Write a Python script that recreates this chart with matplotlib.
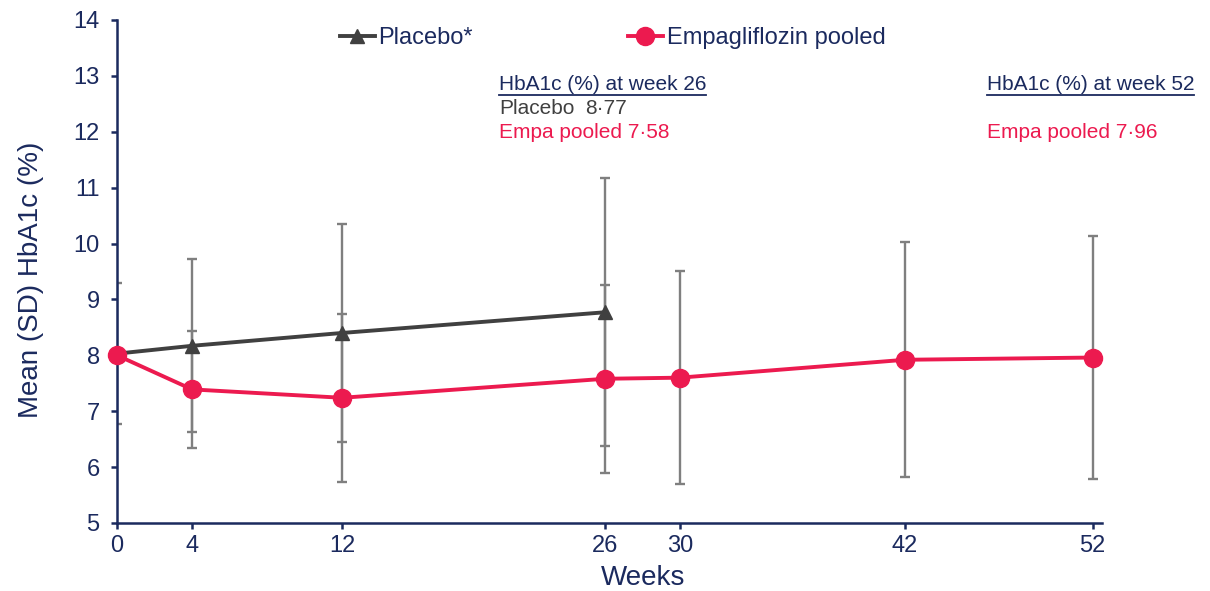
import matplotlib.pyplot as plt
from matplotlib.lines import Line2D

plt.rcParams['font.family'] = ['Liberation Sans', 'DejaVu Sans']

# Data
placebo_weeks = [0, 4, 12, 26]
placebo_mean = [8.03, 8.17, 8.40, 8.77]
placebo_sd = [1.26, 1.55, 1.95, 2.40]

empa_weeks = [0, 4, 12, 26, 30, 42, 52]
empa_mean = [8.00, 7.39, 7.24, 7.58, 7.60, 7.92, 7.96]
empa_sd = [0.0, 1.05, 1.50, 1.68, 1.90, 2.10, 2.17]

x_ticks = [0, 4, 12, 26, 30, 42, 52]
y_ticks = list(range(5, 15))

navy = '#1b2a5e'
grey_line = '#404040'
pink = '#ec1a4f'
err_grey = '#7f7f7f'

fig = plt.figure(figsize=(12.1, 5.91), dpi=100)
ax = fig.add_axes([0.0967, 0.1151, 0.8140, 0.8511])

# Error bars (drawn first so the lines sit on top)
ax.errorbar(placebo_weeks, placebo_mean, yerr=placebo_sd, fmt='none',
            ecolor=err_grey, elinewidth=1.7, capsize=3.5, capthick=1.7, zorder=1)
ax.errorbar(empa_weeks[1:], empa_mean[1:], yerr=empa_sd[1:], fmt='none',
            ecolor=err_grey, elinewidth=1.7, capsize=3.5, capthick=1.7, zorder=1)

ax.plot(placebo_weeks, placebo_mean, color=grey_line, lw=2.8, marker='^',
        markersize=10.5, label='Placebo*', zorder=3)
ax.plot(empa_weeks, empa_mean, color=pink, lw=2.8, marker='o',
        markersize=13, label='Empagliflozin pooled', zorder=4, clip_on=False)

ax.set_xlim(0, 52.5)
ax.set_ylim(5, 14)
ax.set_xticks(x_ticks)
ax.set_yticks(y_ticks)

for side in ['top', 'right']:
    ax.spines[side].set_visible(False)
for side in ['left', 'bottom']:
    ax.spines[side].set_color(navy)
    ax.spines[side].set_linewidth(1.8)
ax.tick_params(colors=navy, labelsize=17, width=1.8, length=4.5, direction='out')
ax.tick_params(axis='y', pad=8)
ax.tick_params(axis='x', pad=4)

ax.set_xlabel('Weeks', fontsize=20, color=navy)
ax.xaxis.set_label_coords(0.534, -0.083)
ax.set_ylabel('Mean (SD) HbA1c (%)', fontsize=20, color=navy)
ax.yaxis.set_label_coords(-0.074, 0.483)

leg = ax.legend(loc='center left', bbox_to_anchor=(0.226, 0.964), ncol=2,
                frameon=False, fontsize=17, handlelength=1.5, handletextpad=0.15,
                columnspacing=6.55, borderpad=0, borderaxespad=0)
for t in leg.get_texts():
    t.set_color(navy)

# Summary boxes
headers = []
headers.append(ax.text(20.35, 12.84, 'HbA1c (%) at week 26', fontsize=15,
                       color=navy, va='center'))
ax.text(20.35, 12.42, 'Placebo', fontsize=15, color=grey_line, va='center')
ax.text(24.95, 12.42, '8·77', fontsize=15, color=grey_line, va='center')
ax.text(20.35, 11.98, 'Empa pooled 7·58', fontsize=15, color=pink, va='center')

headers.append(ax.text(46.35, 12.84, 'HbA1c (%) at week 52', fontsize=15,
                       color=navy, va='center'))
ax.text(46.35, 11.98, 'Empa pooled 7·96', fontsize=15, color=pink, va='center')

# underline the headers
fig.canvas.draw()
inv = fig.transFigure.inverted()
for h in headers:
    bb = h.get_window_extent()
    (x0, y0), (x1, _) = inv.transform([(bb.x0, bb.y0 - 1), (bb.x1, bb.y0)])
    fig.add_artist(Line2D([x0, x1], [y0, y0], color=navy, lw=1.3))

plt.savefig('out.png', dpi=100)
